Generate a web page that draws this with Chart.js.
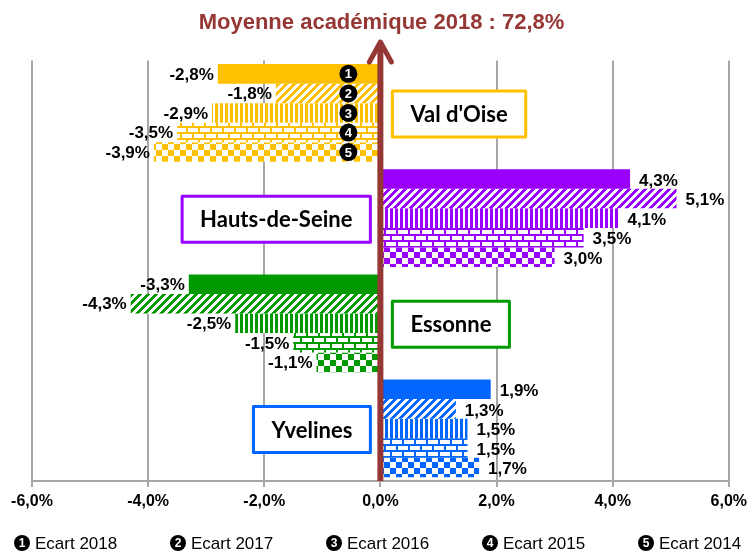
<!DOCTYPE html>
<html>
<head>
<meta charset="utf-8">
<script src="https://cdn.jsdelivr.net/npm/chart.js@4.4.1/dist/chart.umd.min.js"></script>
<style>
  html, body { margin: 0; padding: 0; background: #fff; }
  #wrap { width: 752px; height: 551px; }
</style>
</head>
<body>
<div id="wrap"><canvas id="chart"></canvas></div>
<script>
const regions = ["Val d'Oise", 'Hauts-de-Seine', 'Essonne', 'Yvelines'];
const seriesNames = ['Ecart 2018', 'Ecart 2017', 'Ecart 2016', 'Ecart 2015', 'Ecart 2014'];
const ecart2018 = [-2.8, 4.3, -3.3, 1.9];
const ecart2017 = [-1.8, 5.1, -4.3, 1.3];
const ecart2016 = [-2.9, 4.1, -2.5, 1.5];
const ecart2015 = [-3.5, 3.5, -1.5, 1.5];
const ecart2014 = [-3.9, 3.0, -1.1, 1.7];
const xMin = -6, xMax = 6, xStep = 2;
const titleText = 'Moyenne académique 2018 : 72,8%';

const regionColors = ['#ffc000', '#9900ff', '#009900', '#0066ff'];
const arrowColor = '#953735';
const SANS = '"Liberation Sans", Arial, sans-serif';

const canvas = document.getElementById('chart');
const ctx = canvas.getContext('2d');

// small pixel tiles for the Excel-like fill patterns
function tile(w, h, color, fn) {
  const t = document.createElement('canvas');
  t.width = w; t.height = h;
  const g = t.getContext('2d');
  g.fillStyle = '#fff';
  g.fillRect(0, 0, w, h);
  g.fillStyle = color;
  for (let y = 0; y < h; y++) {
    for (let x = 0; x < w; x++) {
      if (fn(x, y)) g.fillRect(x, y, 1, 1);
    }
  }
  return ctx.createPattern(t, 'repeat');
}

const patterns = [
  c => c,
  c => tile(8, 8, c, (x, y) => ((x + y) % 8) < 4),
  c => tile(5, 1, c, x => x < 3),
  c => tile(12, 12, c, (x, y) => (y % 6) < 2 || (y < 6 ? x < 2 : (x >= 6 && x < 8))),
  c => tile(12, 12, c, (x, y) => (x < 6) !== (y < 6))
];

const seriesData = [ecart2018, ecart2017, ecart2016, ecart2015, ecart2014];

function fmt(v) {
  return v.toFixed(1).replace('.', ',') + '%';
}

const overlay = {
  id: 'overlay',
  afterDatasetsDraw(chart) {
    const g = chart.ctx;
    const zero = chart.scales.x.getPixelForValue(0);
    g.save();
    // value labels
    g.font = 'bold 17px ' + SANS;
    g.fillStyle = '#000';
    g.textBaseline = 'middle';
    seriesData.forEach((arr, d) => {
      const meta = chart.getDatasetMeta(d);
      arr.forEach((v, i) => {
        const bar = meta.data[i];
        if (v < 0) {
          g.textAlign = 'right';
          g.fillText(fmt(v), bar.x - 4, bar.y + 1);
        } else {
          g.textAlign = 'left';
          g.fillText(fmt(v), bar.x + 9, bar.y + 2);
        }
      });
    });
    // numbered markers on the first group
    seriesData.forEach((arr, d) => {
      const bar = chart.getDatasetMeta(d).data[0];
      const cx = zero - 32;
      g.beginPath();
      g.arc(cx, bar.y, 9, 0, Math.PI * 2);
      g.fillStyle = '#000';
      g.fill();
      g.fillStyle = '#fff';
      g.font = 'bold 13px ' + SANS;
      g.textAlign = 'center';
      g.fillText(String(d + 1), cx, bar.y + 1);
    });
    g.restore();
  },
  afterDraw(chart) {
    const g = chart.ctx;
    const area = chart.chartArea;
    const zero = chart.scales.x.getPixelForValue(0);
    g.save();
    // arrow on the zero line
    g.strokeStyle = arrowColor;
    g.lineWidth = 6;
    g.beginPath();
    g.moveTo(zero, area.bottom);
    g.lineTo(zero, 43);
    g.stroke();
    g.lineWidth = 5;
    g.lineCap = 'round';
    g.lineJoin = 'round';
    g.beginPath();
    g.moveTo(zero - 11, 62);
    g.lineTo(zero, 42);
    g.lineTo(zero + 11, 62);
    g.stroke();

    // region boxes
    g.font = 'bold 22px Lato, "Open Sans", sans-serif';
    g.textBaseline = 'middle';
    g.textAlign = 'center';
    regions.forEach((name, i) => {
      const cy = chart.scales.y.getPixelForValue(i) + 1;
      const w = g.measureText(name).width + 36;
      const h = 46;
      const left = ecart2018[i] < 0 ? zero + 12 : zero - 10 - w;
      g.fillStyle = '#fff';
      g.fillRect(left, cy - h / 2, w, h);
      g.strokeStyle = regionColors[i];
      g.lineWidth = 3;
      g.strokeRect(left, cy - h / 2, w, h);
      g.fillStyle = '#000';
      g.fillText(name, left + w / 2, cy + 1);
    });

    // legend
    seriesNames.forEach((name, i) => {
      const x0 = 14 + i * 156;
      const y = 543;
      g.beginPath();
      g.arc(x0 + 8, y, 8, 0, Math.PI * 2);
      g.fillStyle = '#000';
      g.fill();
      g.fillStyle = '#fff';
      g.font = 'bold 12px ' + SANS;
      g.textAlign = 'center';
      g.fillText(String(i + 1), x0 + 8, y + 1);
      g.fillStyle = '#000';
      g.font = '17px ' + SANS;
      g.textAlign = 'left';
      g.fillText(name, x0 + 21, y + 1);
    });
    g.restore();
  }
};

new Chart(canvas, {
  type: 'bar',
  data: {
    labels: regions,
    datasets: seriesData.map((arr, d) => ({
      label: seriesNames[d],
      data: arr,
      backgroundColor: regionColors.map(c => patterns[d](c)),
      borderWidth: 0,
      categoryPercentage: 0.93,
      barPercentage: 1.0
    }))
  },
  options: {
    indexAxis: 'y',
    responsive: true,
    maintainAspectRatio: false,
    animation: false,
    layout: { padding: { left: 32, right: 21, top: 0, bottom: 0 } },
    plugins: {
      legend: { display: false },
      tooltip: { enabled: false },
      title: {
        display: true,
        text: titleText,
        color: arrowColor,
        font: { family: SANS, size: 22, weight: 'bold' },
        padding: { top: 10, bottom: 24 }
      }
    },
    scales: {
      x: {
        min: xMin,
        max: xMax,
        afterFit(scale) { scale.height = 70; },
        ticks: {
          stepSize: xStep,
          color: '#000',
          padding: 5,
          font: { family: SANS, size: 16, weight: 'bold' },
          callback: v => fmt(v)
        },
        grid: { color: '#a6a6a6', lineWidth: 2, tickLength: 6, tickColor: '#a6a6a6' },
        border: { color: '#a6a6a6', width: 2 }
      },
      y: {
        display: false,
        offset: true
      }
    }
  },
  plugins: [overlay]
});
</script>
</body>
</html>
